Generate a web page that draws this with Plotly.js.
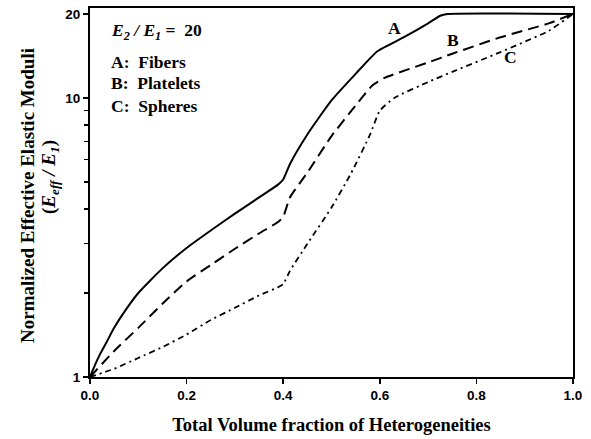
<!DOCTYPE html>
<html><head><meta charset="utf-8">
<script src="https://cdn.plot.ly/plotly-3.0.1.min.js"></script>
<style>body{margin:0;background:#fff}#chart{width:591px;height:439px}</style>
</head><body><div id="chart"></div>
<script>
// Curve A: Fibers (solid)
const xA = [0, 0.01, 0.02, 0.035, 0.05, 0.075, 0.1, 0.15, 0.2, 0.25, 0.3, 0.35, 0.39, 0.4, 0.414, 0.45, 0.5, 0.55, 0.595, 0.65, 0.7, 0.725, 0.74, 1.0];
const yA = [1, 1.1, 1.2, 1.34, 1.5, 1.75, 2.0, 2.45, 2.9, 3.35, 3.85, 4.4, 4.9, 5.1, 5.8, 7.4, 9.8, 12.2, 14.7, 16.5, 18.5, 19.7, 20, 20];
// Curve B: Platelets (dashed)
const xB = [0, 0.05, 0.1, 0.15, 0.2, 0.25, 0.3, 0.35, 0.39, 0.4, 0.414, 0.45, 0.5, 0.55, 0.585, 0.61, 0.7, 0.75, 0.85, 0.95, 1.0];
const yB = [1, 1.24, 1.5, 1.83, 2.2, 2.52, 2.88, 3.27, 3.6, 3.75, 4.4, 5.4, 7.3, 9.4, 11.1, 11.8, 13.4, 14.4, 16.5, 18.5, 20];
// Curve C: Spheres (dash-dot)
const xC = [0, 0.05, 0.1, 0.15, 0.2, 0.25, 0.3, 0.35, 0.39, 0.4, 0.414, 0.45, 0.5, 0.54, 0.58, 0.6, 0.63, 0.7, 0.75, 0.85, 0.95, 1.0];
const yC = [1, 1.07, 1.17, 1.28, 1.42, 1.6, 1.77, 1.96, 2.1, 2.15, 2.4, 3.0, 4.05, 5.35, 7.4, 9.0, 10.0, 11.4, 12.4, 14.6, 17.4, 20];

const xTicks = [0, 0.2, 0.4, 0.6, 0.8, 1.0];
const xTickText = ['0.0', '0.2', '0.4', '0.6', '0.8', '1.0'];
const yTicks = [1, 10, 20];
const yTickText = ['1', '10', '20'];
const yMinorTicks = [2, 3, 4, 5, 6, 7, 8, 9];

const serif = 'Liberation Serif, Times New Roman, serif';
const sans = 'Liberation Sans, Arial, sans-serif';

const traces = [
  {x: xA, y: yA, mode: 'lines', line: {color: '#000', width: 2, shape: 'spline', smoothing: 0.5}, name: 'A'},
  {x: xB, y: yB, mode: 'lines', line: {color: '#000', width: 2, dash: '11px,6px', shape: 'spline', smoothing: 0.5}, name: 'B'},
  {x: xC, y: yC, mode: 'lines', line: {color: '#000', width: 1.8, dash: '6px,4px,2px,4px', shape: 'spline', smoothing: 0.5}, name: 'C'}
];

const annFont = {family: serif, size: 17.5, color: '#000', weight: 'bold'};
const titleFont = {family: serif, size: 19, color: '#000', weight: 'bold'};
const tickFont = {family: sans, size: 13.5, color: '#000', weight: 'bold'};
const layout = {
  width: 591, height: 439,
  margin: {l: 90, r: 18, t: 8, b: 62},
  paper_bgcolor: '#fff', plot_bgcolor: '#fff',
  showlegend: false,
  xaxis: {
    range: [0, 1], tickvals: xTicks, ticktext: xTickText,
    ticks: 'outside', ticklen: 5, tickwidth: 1.5, tickcolor: '#000',
    showline: true, linewidth: 2, linecolor: '#000', mirror: true,
    showgrid: false, zeroline: false,
    tickfont: tickFont,
    title: {text: 'Total Volume fraction of Heterogeneities', font: {family: serif, size: 18.5, color: '#000', weight: 'bold'}, standoff: 16}
  },
  yaxis: {
    type: 'log', range: [0, Math.log10(21)], tickvals: yTicks, ticktext: yTickText,
    ticks: 'outside', ticklen: 5, tickwidth: 1.5, tickcolor: '#000',
    minor: {tickvals: yMinorTicks, ticks: 'outside', ticklen: 4, tickwidth: 1.2, tickcolor: '#000', showgrid: false},
    showline: true, linewidth: 2, linecolor: '#000', mirror: true,
    showgrid: false, zeroline: false,
    tickfont: tickFont
  },
  annotations: [
    {xref: 'paper', yref: 'paper', x: 0, xshift: -63, y: 0.4905, xanchor: 'center', yanchor: 'middle', textangle: -90, showarrow: false,
     text: 'Normalized Effective Elastic Moduli', font: titleFont},
    {xref: 'paper', yref: 'paper', x: 0, xshift: -40, y: 0.542, xanchor: 'center', yanchor: 'middle', textangle: -90, showarrow: false,
     text: '(<i>E</i><sub><i>eff</i></sub><i> / E</i><sub><i>1</i></sub>)', font: titleFont},
    {xref: 'paper', yref: 'paper', x: 0.04, y: 0.935, xanchor: 'left', yanchor: 'middle', showarrow: false, align: 'left',
     text: '<i>E</i><sub><i>2</i></sub><i> / E</i><sub><i>1</i></sub> =  20', font: annFont},
    {xref: 'paper', yref: 'paper', x: 0.04, y: 0.854, xanchor: 'left', yanchor: 'middle', showarrow: false, align: 'left',
     text: 'A:  Fibers', font: annFont},
    {xref: 'paper', yref: 'paper', x: 0.04, y: 0.797, xanchor: 'left', yanchor: 'middle', showarrow: false, align: 'left',
     text: 'B:  Platelets', font: annFont},
    {xref: 'paper', yref: 'paper', x: 0.04, y: 0.734, xanchor: 'left', yanchor: 'middle', showarrow: false, align: 'left',
     text: 'C:  Spheres', font: annFont},
    {xref: 'paper', yref: 'paper', x: 0.631, y: 0.946, xanchor: 'center', yanchor: 'middle', showarrow: false, text: 'A', font: annFont},
    {xref: 'paper', yref: 'paper', x: 0.752, y: 0.913, xanchor: 'center', yanchor: 'middle', showarrow: false, text: 'B', font: annFont},
    {xref: 'paper', yref: 'paper', x: 0.87, y: 0.867, xanchor: 'center', yanchor: 'middle', showarrow: false, text: 'C', font: annFont}
  ]
};
Plotly.newPlot('chart', traces, layout, {displayModeBar: false, staticPlot: true});
</script></body></html>
